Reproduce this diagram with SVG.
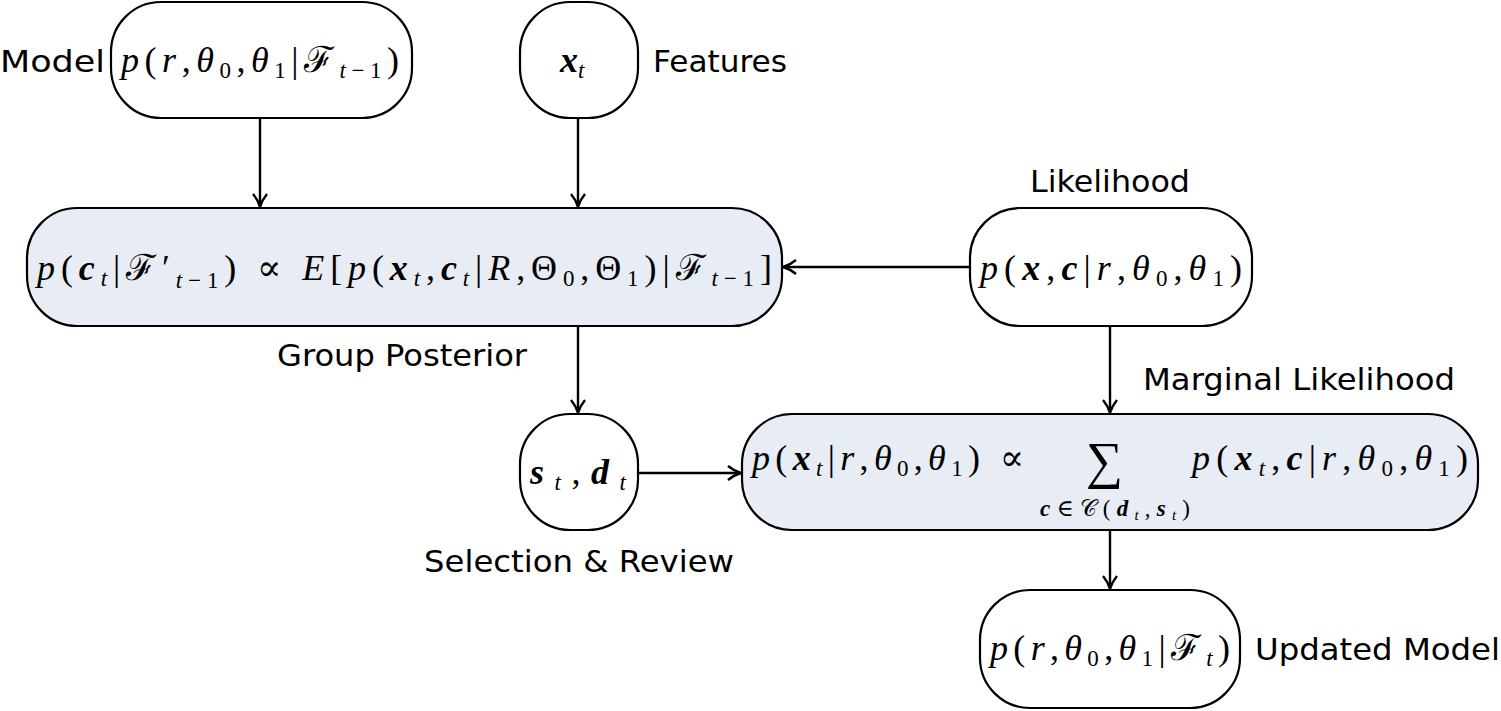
<svg xmlns="http://www.w3.org/2000/svg" width="1501" height="711" viewBox="0 0 1501 711">
<defs>
<style>
.n{fill:#fff;stroke:#000;stroke-width:2.2}
.f{fill:#e8ecf4;stroke:#000;stroke-width:2.2}
.l{font-family:"DejaVu Sans","Liberation Sans",sans-serif;font-size:30px;fill:#000}
.m{font-family:"Liberation Serif","DejaVu Serif",serif;font-size:36px;fill:#000}
.i{font-style:italic}
.b{font-style:italic;font-weight:bold}
.s{font-size:23px}
.c line{stroke:#000;stroke-width:2.4;marker-end:url(#a)}
</style>
<marker id="a" markerWidth="16" markerHeight="16" refX="13" refY="8" orient="auto" markerUnits="userSpaceOnUse">
<path d="M1,1 Q7,6 14,8 Q7,10 1,15" fill="none" stroke="#000" stroke-width="2.4"/>
</marker>
</defs>
<g class="c">
<line x1="260" y1="118" x2="260" y2="206"/>
<line x1="578" y1="118" x2="578" y2="206"/>
<line x1="970" y1="267" x2="784" y2="267"/>
<line x1="578" y1="326" x2="578" y2="412"/>
<line x1="1110" y1="326" x2="1110" y2="412"/>
<line x1="638" y1="473" x2="740" y2="473"/>
<line x1="1110" y1="530" x2="1110" y2="588"/>
</g>
<g id="model">
<rect class="n" x="111" y="2" width="301" height="116" rx="50"/>
<text class="m" x="121" y="72" textLength="278" lengthAdjust="spacing"><tspan class="i">p</tspan>(<tspan class="i">r</tspan>,<tspan class="i">θ</tspan><tspan class="s" dy="6">0</tspan><tspan dy="-6">,</tspan><tspan class="i">θ</tspan><tspan class="s" dy="6">1</tspan><tspan dy="-6">|ℱ</tspan><tspan class="s i" dy="6">t</tspan><tspan class="s">−1</tspan><tspan dy="-6">)</tspan></text>
<text class="l" x="0" y="72" textLength="105" lengthAdjust="spacingAndGlyphs">Model</text>
</g>
<g id="features">
<rect class="n" x="520" y="2" width="118" height="116" rx="50"/>
<text class="m" x="560" y="72"><tspan class="b">x</tspan><tspan class="s i" dy="6">t</tspan></text>
<text class="l" x="653" y="72" textLength="134" lengthAdjust="spacingAndGlyphs">Features</text>
</g>
<g id="group">
<rect class="f" x="27" y="208" width="755" height="118" rx="50"/>
<text class="m" x="37" y="280" textLength="735" lengthAdjust="spacing"><tspan class="i">p</tspan>(<tspan class="b">c</tspan><tspan class="s i" dy="6">t</tspan><tspan dy="-6">|ℱ′</tspan><tspan class="s i" dy="8">t</tspan><tspan class="s">−1</tspan><tspan dy="-8">) ∝ </tspan><tspan class="i">E</tspan>[<tspan class="i">p</tspan>(<tspan class="b">x</tspan><tspan class="s i" dy="6">t</tspan><tspan dy="-6">,</tspan><tspan class="b">c</tspan><tspan class="s i" dy="6">t</tspan><tspan dy="-6">|</tspan><tspan class="i">R</tspan>,Θ<tspan class="s" dy="6">0</tspan><tspan dy="-6">,Θ</tspan><tspan class="s" dy="6">1</tspan><tspan dy="-6">)|ℱ</tspan><tspan class="s i" dy="6">t</tspan><tspan class="s">−1</tspan><tspan dy="-6">]</tspan></text>
<text class="l" x="277" y="366" textLength="250" lengthAdjust="spacingAndGlyphs">Group Posterior</text>
</g>
<g id="likelihood">
<rect class="n" x="970" y="208" width="282" height="118" rx="50"/>
<text class="m" x="980" y="280" textLength="262" lengthAdjust="spacing"><tspan class="i">p</tspan>(<tspan class="b">x</tspan>,<tspan class="b">c</tspan>|<tspan class="i">r</tspan>,<tspan class="i">θ</tspan><tspan class="s" dy="6">0</tspan><tspan dy="-6">,</tspan><tspan class="i">θ</tspan><tspan class="s" dy="6">1</tspan><tspan dy="-6">)</tspan></text>
<text class="l" x="1030" y="192" textLength="160" lengthAdjust="spacingAndGlyphs">Likelihood</text>
</g>
<g id="selection">
<rect class="n" x="520" y="414" width="118" height="116" rx="50"/>
<text class="m" x="530" y="484" textLength="96" lengthAdjust="spacing"><tspan class="b">s</tspan><tspan class="s i" dy="6">t</tspan><tspan dy="-6">,</tspan><tspan class="b">d</tspan><tspan class="s i" dy="6">t</tspan></text>
<text class="l" x="424" y="572" textLength="310" lengthAdjust="spacingAndGlyphs">Selection &amp; Review</text>
</g>
<g id="marginal">
<rect class="f" x="742" y="414" width="736" height="116" rx="50"/>
<text class="m" x="752" y="470" textLength="272" lengthAdjust="spacing"><tspan class="i">p</tspan>(<tspan class="b">x</tspan><tspan class="s i" dy="6">t</tspan><tspan dy="-6">|</tspan><tspan class="i">r</tspan>,<tspan class="i">θ</tspan><tspan class="s" dy="6">0</tspan><tspan dy="-6">,</tspan><tspan class="i">θ</tspan><tspan class="s" dy="6">1</tspan><tspan dy="-6">) ∝</tspan></text>
<text class="m" x="1086" y="478" style="font-size:52px">∑</text>
<text class="m s" x="1040" y="516" textLength="150" lengthAdjust="spacing"><tspan class="b">c</tspan>∈𝒞(<tspan class="b">d</tspan><tspan class="i" style="font-size:15px" dy="4">t</tspan><tspan dy="-4">,</tspan><tspan class="b">s</tspan><tspan class="i" style="font-size:15px" dy="4">t</tspan><tspan dy="-4">)</tspan></text>
<text class="m" x="1192" y="470" textLength="276" lengthAdjust="spacing"><tspan class="i">p</tspan>(<tspan class="b">x</tspan><tspan class="s i" dy="6">t</tspan><tspan dy="-6">,</tspan><tspan class="b">c</tspan>|<tspan class="i">r</tspan>,<tspan class="i">θ</tspan><tspan class="s" dy="6">0</tspan><tspan dy="-6">,</tspan><tspan class="i">θ</tspan><tspan class="s" dy="6">1</tspan><tspan dy="-6">)</tspan></text>
<text class="l" x="1143" y="390" textLength="312" lengthAdjust="spacingAndGlyphs">Marginal Likelihood</text>
</g>
<g id="updated">
<rect class="n" x="980" y="590" width="260" height="118" rx="50"/>
<text class="m" x="990" y="660" textLength="240" lengthAdjust="spacing"><tspan class="i">p</tspan>(<tspan class="i">r</tspan>,<tspan class="i">θ</tspan><tspan class="s" dy="6">0</tspan><tspan dy="-6">,</tspan><tspan class="i">θ</tspan><tspan class="s" dy="6">1</tspan><tspan dy="-6">|ℱ</tspan><tspan class="s i" dy="6">t</tspan><tspan dy="-6">)</tspan></text>
<text class="l" x="1255" y="660" textLength="245" lengthAdjust="spacingAndGlyphs">Updated Model</text>
</g>
</svg>
